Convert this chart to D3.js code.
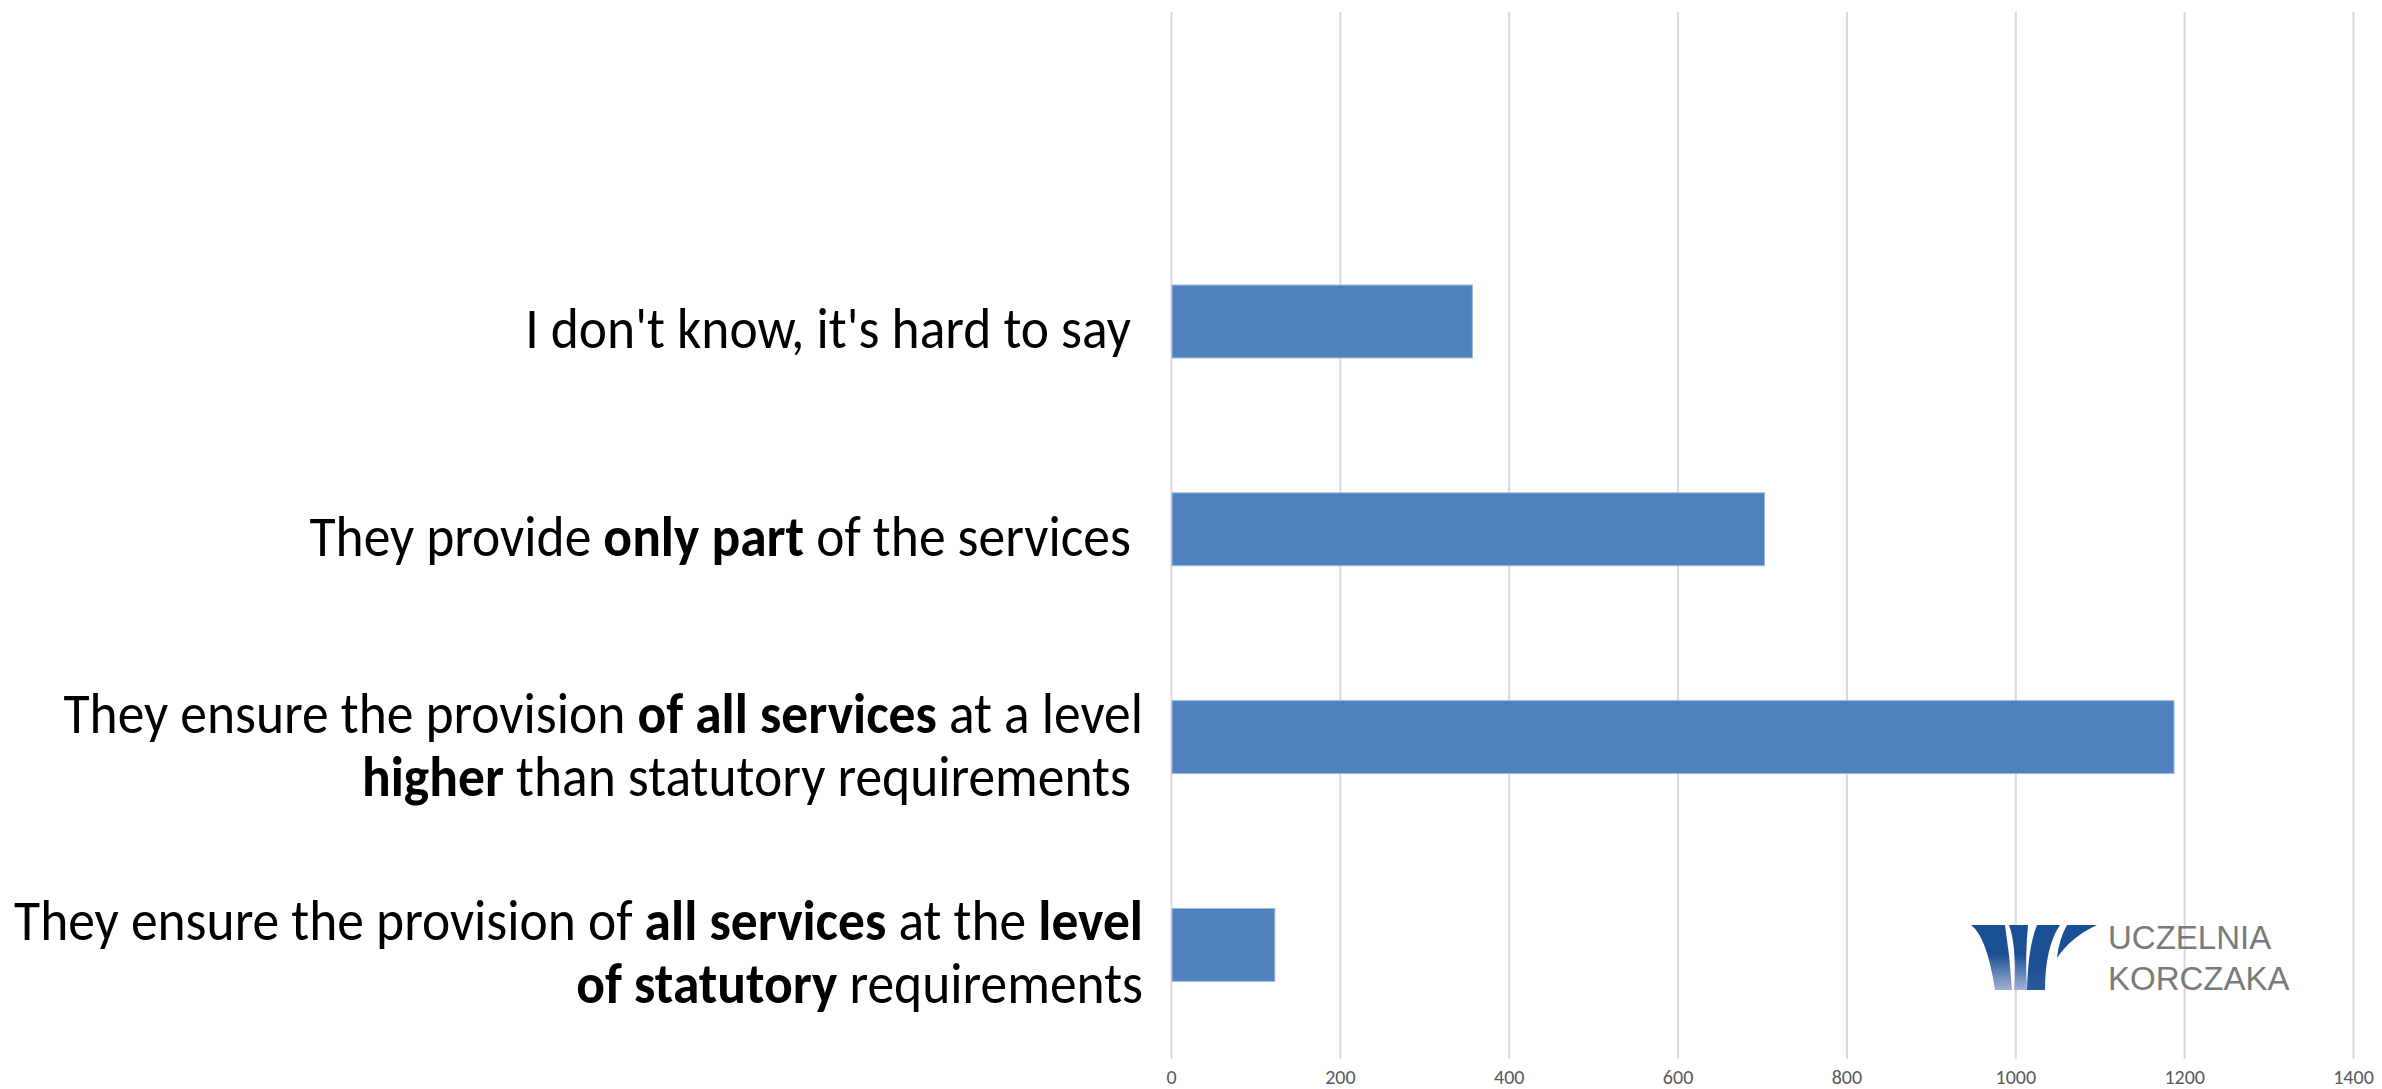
<!DOCTYPE html>
<html>
<head>
<meta charset="utf-8">
<script src="https://cdn.jsdelivr.net/npm/d3@7"></script>
<style>
  html, body { margin: 0; padding: 0; background: #fff; }
  svg { display: block; }
  .lbl { white-space: pre; }
</style>
</head>
<body>
<svg width="2382" height="1089"></svg>
<script>
// data (top to bottom)
var categories = [
  "I don't know, it's hard to say",
  "They provide only part of the services",
  "They ensure the provision of all services at a level higher than statutory requirements",
  "They ensure the provision of all services at the level of statutory requirements"
];
// label lines, **text** = bold
var labelLines = [
  ["I don't know, it's hard to say "],
  ["They provide **only part** of the services "],
  ["They ensure the provision **of all services** at a level", "**higher** than statutory requirements "],
  ["They ensure the provision of **all services** at the **level**", "**of statutory** requirements"]
];
var values = [357, 703, 1188, 123];
var xTicks = [0, 200, 400, 600, 800, 1000, 1200, 1400];
var logoLines = ["UCZELNIA", "KORCZAKA"];

var svg = d3.select("svg");
var plot = { left: 1171, right: 2353, top: 12, bottom: 1059, bandTop: 217.6, bandBottom: 1048.8 };
var labelFont = "Carlito, Calibri, Lato, 'Open Sans', sans-serif";

var xScale = d3.scaleLinear().domain([0, 1400]).range([plot.left, plot.right]);
var yScale = d3.scalePoint().domain(categories).range([plot.bandTop, plot.bandBottom]).padding(0.5);
var barH = yScale.step() * 0.351;

// gridlines + tick labels
var xAxis = svg.append("g")
  .attr("transform", `translate(0, ${plot.bottom})`)
  .call(d3.axisBottom(xScale).tickValues(xTicks).tickFormat(d3.format("d"))
    .tickSize(-(plot.bottom - plot.top)).tickPadding(11));
xAxis.select(".domain").remove();
xAxis.selectAll(".tick line").attr("stroke", "#d9d9d9").attr("stroke-width", 2);
xAxis.selectAll(".tick text")
  .attr("fill", "#595959")
  .style("font-family", labelFont)
  .style("font-size", "20px");

// bars
svg.append("g").selectAll("rect").data(values).join("rect")
  .attr("x", xScale(0) + 1)
  .attr("y", function (d, i) { return yScale(categories[i]) - barH / 2; })
  .attr("width", function (d) { return xScale(d) - xScale(0) - 1; })
  .attr("height", barH)
  .attr("fill", "#4f81bd")
  .attr("stroke", "#9db8e0")
  .attr("stroke-width", 1);

// category labels
var labelG = svg.append("g").style("font-family", labelFont).attr("fill", "#000");
var fontSize = 50;
var lineGap = 63;
var labelRight = 1143;
var squeeze = 0.94; // narrower glyphs, like the original condensed font

labelLines.forEach(function (lines, i) {
  var c = yScale(categories[i]);
  lines.forEach(function (line, j) {
    var base = c + 27 + (j - (lines.length - 1) / 2) * lineGap;
    var t = labelG.append("text").attr("class", "lbl")
      .attr("x", labelRight).attr("y", base)
      .attr("text-anchor", "end")
      .attr("transform", `translate(${labelRight},0) scale(${squeeze},1) translate(${-labelRight},0)`)
      .style("font-size", fontSize + "px");
    line.split("**").forEach(function (part, k) {
      if (!part) return;
      t.append("tspan").text(part).attr("font-weight", k % 2 ? "bold" : "normal");
    });
  });
});

// fit label size to the reference width of the widest line (bottom label, first line)
var widest = labelG.selectAll("text").nodes()[4];
if (widest) {
  var w = widest.getComputedTextLength() * squeeze;
  var k = 1129 / w;
  labelG.selectAll("text").style("font-size", (fontSize * k) + "px");
}

// logo
var logo = svg.append("g").attr("transform", "translate(1971, 925)");
var defs = svg.append("defs");
var grad = defs.append("linearGradient")
  .attr("id", "logoGrad").attr("x1", 0).attr("y1", 0).attr("x2", 0).attr("y2", 1);
grad.append("stop").attr("offset", "0.45").attr("stop-color", "#1b4f94");
grad.append("stop").attr("offset", "1").attr("stop-color", "#a3b0d6");
var grad2 = defs.append("linearGradient")
  .attr("id", "logoGrad2").attr("x1", 0).attr("y1", 0).attr("x2", 0).attr("y2", 1);
grad2.append("stop").attr("offset", "0.6").attr("stop-color", "#1b4f94");
grad2.append("stop").attr("offset", "1").attr("stop-color", "#2a5a9c");
logo.append("path").attr("d", "M0,0 L34,0 Q39,32 41,65 L24,65 Q16,12 0,0 Z").attr("fill", "url(#logoGrad)");
logo.append("path").attr("d", "M38,0 L57,0 Q54,30 56,65 L43,65 Q46,22 38,0 Z").attr("fill", "url(#logoGrad)");
logo.append("path").attr("d", "M66,0 L89,0 Q74,22 74,65 L56,65 Q57,22 66,0 Z").attr("fill", "url(#logoGrad2)");
logo.append("path").attr("d", "M96,0 L126,0 Q100,12 86,33 Q88,14 96,0 Z").attr("fill", "#1b4f94");
svg.append("g").selectAll("text").data(logoLines).join("text")
  .attr("x", 2108)
  .attr("y", function (d, i) { return 949 + i * 41; })
  .attr("fill", "#7a7a7a")
  .style("font-family", "'Liberation Sans', Arial, sans-serif")
  .style("font-size", "33px")
  .text(function (d) { return d; });
</script>
</body>
</html>
